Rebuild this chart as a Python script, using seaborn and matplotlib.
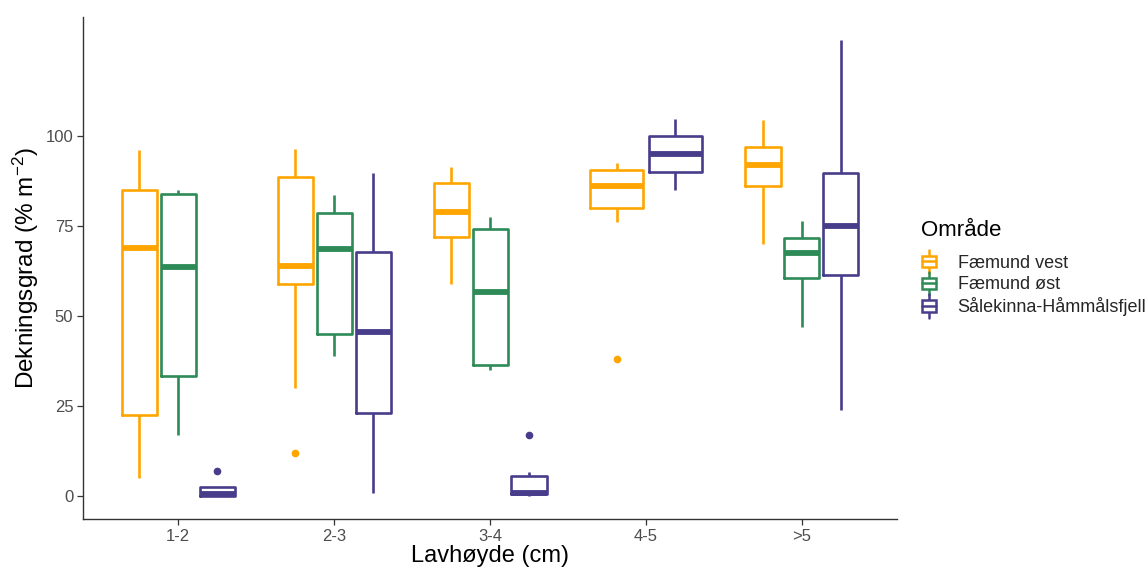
import numpy as np
import pandas as pd
import seaborn as sns
import matplotlib.pyplot as plt
from matplotlib.legend_handler import HandlerBase
from matplotlib.patches import Rectangle
from matplotlib.lines import Line2D

# ---------------- data ----------------
categories = ["1-2", "2-3", "3-4", "4-5", ">5"]
areas = ["Fæmund vest", "Fæmund øst", "Sålekinna-Håmmålsfjell"]
colors = ["#FFA500", "#2E8B57", "#483D8B"]

# five-number summaries (lower whisker, Q1, median, Q3, upper whisker) + outlier
vest_lo = [5, 30, 59, 76, 70]
vest_q1 = [22.5, 59, 72, 80, 86]
vest_med = [69, 64, 79, 86, 92]
vest_q3 = [85, 88.5, 87, 90.5, 97]
vest_hi = [96, 96.5, 91.5, 92.5, 104.5]
vest_out = [None, 12, None, 38, None]

ost_lo = [17, 39, 35, None, 47]
ost_q1 = [33.5, 45, 36.5, None, 60.5]
ost_med = [63.5, 68.5, 56.7, None, 67.5]
ost_q3 = [84, 78.5, 74.2, None, 71.8]
ost_hi = [85, 83.5, 77.5, None, 76.5]
ost_out = [None, None, None, None, None]

sal_lo = [0, 1, 0, 85, 24]
sal_q1 = [0, 23.2, 0.5, 90, 61.3]
sal_med = [0.5, 45.5, 1, 95, 75]
sal_q3 = [2.5, 67.7, 5.5, 100, 89.6]
sal_hi = [2.5, 89.7, 6.7, 104.6, 126.5]
sal_out = [7, None, 17, None, None]

summaries = {
    areas[0]: (vest_lo, vest_q1, vest_med, vest_q3, vest_hi, vest_out),
    areas[1]: (ost_lo, ost_q1, ost_med, ost_q3, ost_hi, ost_out),
    areas[2]: (sal_lo, sal_q1, sal_med, sal_q3, sal_hi, sal_out),
}

rows = []
for area, (lo, q1, med, q3, hi, out) in summaries.items():
    for i, cat in enumerate(categories):
        if lo[i] is None:
            continue
        if out[i] is None:
            vals = [lo[i], q1[i], med[i], q3[i], hi[i]]
        elif out[i] > hi[i]:
            vals = [lo[i], lo[i], q1[i], q1[i], med[i], q3[i], q3[i], hi[i], out[i]]
        else:
            vals = [out[i], lo[i], q1[i], q1[i], med[i], q3[i], q3[i], hi[i], hi[i]]
        for v in vals:
            rows.append({"Lavhøyde": cat, "Område": area, "value": v})
df = pd.DataFrame(rows)
pal = dict(zip(areas, colors))

# ---------------- style ----------------
sns.set_theme(style="ticks")
plt.rcParams["font.family"] = ["Liberation Sans", "DejaVu Sans"]
plt.rcParams["mathtext.fontset"] = "custom"
plt.rcParams["mathtext.rm"] = "Liberation Sans"
plt.rcParams["mathtext.it"] = "Liberation Sans:italic"

fig = plt.figure(figsize=(11.47, 5.68), dpi=100)
ax = fig.add_axes([0.0724, 0.0863, 0.7097, 0.8838])

common = dict(x="Lavhøyde", y="value", order=categories, width=0.75, gap=0.1,
              fill=False, linewidth=1.9, showcaps=False,
              medianprops=dict(linewidth=4.2),
              flierprops=dict(marker="o", markersize=4.5), legend=False, ax=ax)

full = df[df["Lavhøyde"] != "4-5"]
sns.boxplot(data=full, hue="Område", hue_order=areas, palette=pal, **common)
part = df[df["Lavhøyde"] == "4-5"]
sns.boxplot(data=part, hue="Område", hue_order=[areas[0], areas[2]], palette=pal, **common)

for ln in ax.lines:
    if ln.get_marker() == "o":
        ln.set_markerfacecolor(ln.get_markeredgecolor())

ax.set_xlim(-0.61, 4.61)
ax.set_ylim(-6.3, 133)
ax.set_yticks([0, 25, 50, 75, 100])
ax.set_xlabel("Lavhøyde (cm)", fontsize=17, color="black", labelpad=1)
ax.set_ylabel(r"Dekningsgrad (% m$^{-2}$)", fontsize=17.5, color="black", labelpad=3)
ax.tick_params(axis="both", labelsize=12, labelcolor="#4D4D4D", color="#333333",
               length=4, width=0.9, pad=3)
sns.despine(ax=ax)
for s in ("left", "bottom"):
    ax.spines[s].set_color("#333333")
    ax.spines[s].set_linewidth(1.0)


# legend keys drawn as small boxplot glyphs (like ggplot)
class BoxKey(HandlerBase):
    def create_artists(self, legend, orig_handle, xdescent, ydescent,
                       width, height, fontsize, trans):
        c = orig_handle.get_edgecolor()
        x0, y0 = -xdescent, -ydescent
        cx = x0 + width / 2
        bw = width * 0.8
        whisk = Line2D([cx, cx], [y0 - 0.22 * height, y0 + 1.22 * height],
                       color=c, lw=1.8, transform=trans)
        box = Rectangle((cx - bw / 2, y0 + 0.15 * height), bw, 0.7 * height,
                        facecolor="white", edgecolor=c, lw=1.8, transform=trans)
        med = Line2D([cx - bw / 2, cx + bw / 2], [y0 + 0.5 * height] * 2,
                     color=c, lw=1.8, transform=trans)
        return [whisk, box, med]


handles = [Rectangle((0, 0), 1, 1, facecolor="white", edgecolor=c) for c in colors]
leg = ax.legend(handles, areas, handler_map={Rectangle: BoxKey()},
                loc="center left", bbox_to_anchor=(1.02, 0.5), frameon=False,
                title="Område", fontsize=13, title_fontsize=16,
                handlelength=0.95, handleheight=1.0, handletextpad=1.1,
                labelspacing=0.2, borderaxespad=0)
leg._legend_box.align = "left"
leg._legend_box.sep = 9
leg.get_title().set_color("black")

fig.savefig("out.png", dpi=100)
